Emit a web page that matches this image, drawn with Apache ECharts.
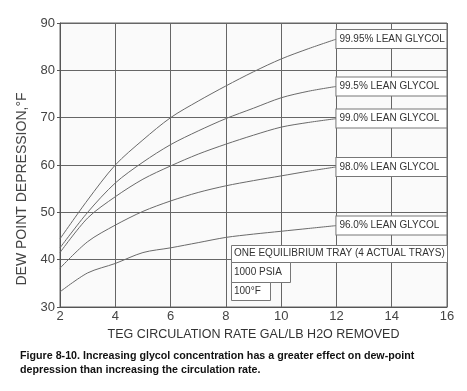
<!DOCTYPE html>
<html><head><meta charset="utf-8">
<script src="https://cdn.jsdelivr.net/npm/echarts@6/dist/echarts.min.js"></script>
<style>html,body{margin:0;padding:0;background:#fff}#c{width:467px;height:391px}</style>
</head><body><div id="c"></div>
<script>
const rates = [2,3,4,5,6,7,8,9,10,11,12];
const s9995 = [44.4,52.6,60,65.3,70,73.5,76.7,79.7,82.4,84.6,86.6];
const s995  = [42.5,50,56.2,60.6,64.3,67.2,69.8,72,74.2,75.6,76.6];
const s990  = [41.5,48.8,53.3,57,59.8,62.3,64.4,66.3,68,69,69.8];
const s980  = [38.2,43.8,47.3,50.2,52.4,54.2,55.6,56.7,57.7,58.7,59.6];
const s960  = [33.2,37.2,39.2,41.5,42.5,43.6,44.7,45.4,46,46.6,47.2];
const seriesNames = ['99.95% LEAN GLYCOL','99.5% LEAN GLYCOL','99.0% LEAN GLYCOL','98.0% LEAN GLYCOL','96.0% LEAN GLYCOL'];
const seriesVals = [s9995,s995,s990,s980,s960];
const xTicks = [2,4,6,8,10,12,14,16];
const yTicks = [30,40,50,60,70,80,90];
const yTitle = 'DEW POINT DEPRESSION,°F';
const xTitle = 'TEG CIRCULATION RATE GAL/LB H2O REMOVED';
const notes = ['ONE EQUILIBRIUM TRAY (4 ACTUAL TRAYS)','1000 PSIA','100°F'];
const caption = ['Figure 8-10. Increasing glycol concentration has a greater effect on dew-point','depression than increasing the circulation rate.'];

const chart = echarts.init(document.getElementById('c'), null, {renderer:'canvas'});
const FONT = 'Liberation Sans, Arial, sans-serif';
const series = seriesNames.map((n,i)=>({
  name:n, type:'line', smooth:0.3, symbol:'none',
  data: rates.map((x,j)=>[x, seriesVals[i][j]]),
  lineStyle:{color:'#6a6a6a', width:1},
  endLabel:{show:true, formatter:n, distance:0, color:'#333', fontFamily:FONT, fontSize:10,
    backgroundColor:'#fff', borderColor:'#777', borderWidth:1, padding:[4,3,4,3], width:104, align:'left'}
}));
const noteBoxes = [
  {x:231,y:245,w:216,h:17,t:notes[0]},
  {x:231,y:262,w:59,h:20,t:notes[1]},
  {x:231,y:282,w:39,h:18,t:notes[2]}
];
const graphic = [];
noteBoxes.forEach(b=>{
  graphic.push({type:'rect', left:b.x, top:b.y, shape:{width:b.w,height:b.h}, style:{fill:'#fff', stroke:'#777', lineWidth:1}, z:100});
  graphic.push({type:'text', left:b.x+3, top:b.y+b.h/2-5, style:{text:b.t, fill:'#333', font:'10px '+FONT}, z:101});
});
graphic.push({type:'text', x:22, y:189, rotation:Math.PI/2, style:{text:yTitle, fill:'#444', font:'14px '+FONT, align:'center', verticalAlign:'middle'}});
graphic.push({type:'text', left:20, top:351, style:{text:caption[0], fill:'#111', font:'bold 10.7px '+FONT}});
graphic.push({type:'text', left:20, top:365, style:{text:caption[1], fill:'#111', font:'bold 10.7px '+FONT}});

chart.setOption({
  animation:false,
  backgroundColor:'#fff',
  grid:{left:60, right:20, top:23, bottom:84, backgroundColor:'#fafafa', show:true, borderColor:'#666', borderWidth:1},
  xAxis:{type:'value', min:2, max:16, interval:2,
    name:xTitle, nameLocation:'middle', nameGap:10,
    nameTextStyle:{color:'#333', fontFamily:FONT, fontSize:12.5},
    axisLine:{lineStyle:{color:'#555'}}, axisTick:{show:false},
    axisLabel:{color:'#444', fontFamily:FONT, fontSize:13, margin:3},
    splitLine:{show:true, lineStyle:{color:'#666', width:1}}},
  yAxis:{type:'value', min:30, max:90, interval:10,
    axisLine:{show:true, lineStyle:{color:'#555'}}, axisTick:{show:true, length:3, inside:false},
    axisLabel:{color:'#444', fontFamily:FONT, fontSize:13, margin:5},
    splitLine:{show:true, lineStyle:{color:'#666', width:1}}},
  series: series,
  graphic: graphic
});
</script></body></html>
